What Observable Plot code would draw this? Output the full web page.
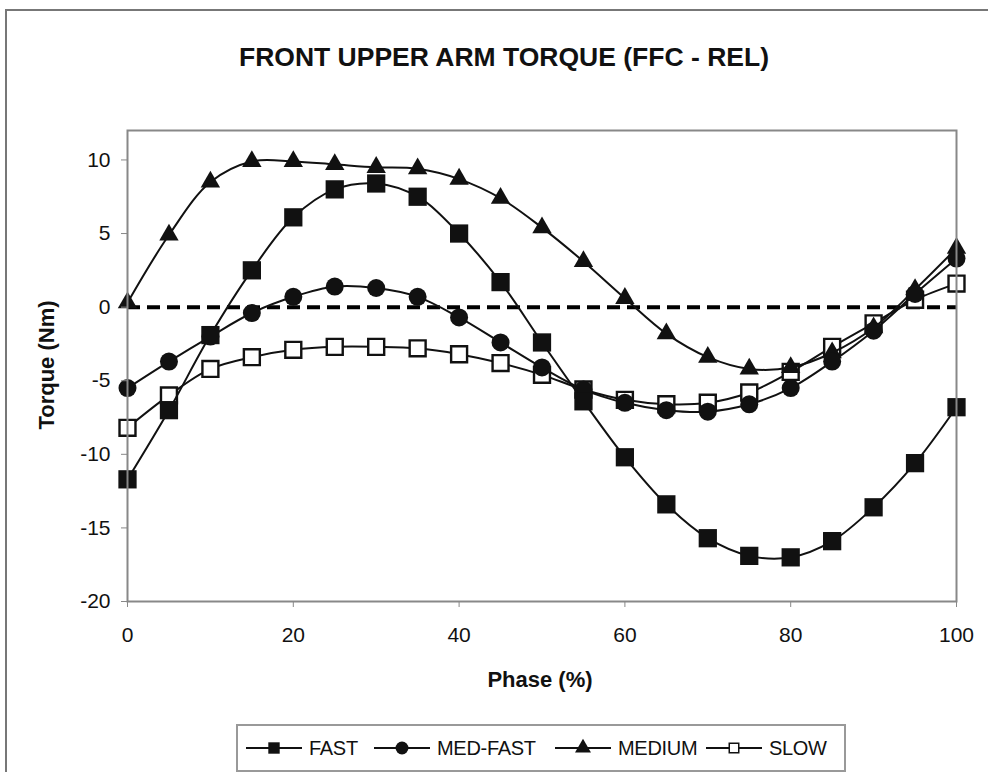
<!DOCTYPE html>
<html><head><meta charset="utf-8">
<script src="https://cdn.jsdelivr.net/npm/d3@7"></script>
<script src="https://cdn.jsdelivr.net/npm/@observablehq/plot@0.6"></script>
<style>
body{margin:0;background:#fff;font-family:"Liberation Sans",Arial,sans-serif;color:#111;}
#wrap{position:relative;width:988px;height:772px;overflow:hidden;}
#border{position:absolute;left:5px;top:9px;width:1100px;height:900px;border:2px solid #777;}
#title{position:absolute;left:0;width:1008px;top:42px;line-height:30px;text-align:center;font-weight:bold;font-size:26.5px;}
#chart{position:absolute;left:0;top:0;}
.alabel{position:absolute;font-weight:bold;font-size:22px;line-height:26px;white-space:nowrap;}
#xlabel{left:440px;width:200px;text-align:center;top:667px;}
#ylabel{left:-53px;width:200px;text-align:center;top:352px;transform:rotate(-90deg);}
#legend{position:absolute;left:236px;top:724px;width:606px;height:44px;border:2px solid #999;background:#fff;}
.item{position:absolute;top:0;height:44px;display:flex;align-items:center;font-size:20px;letter-spacing:-0.3px;white-space:nowrap;}
.item svg{margin-right:7px;}
</style></head>
<body>
<div id="wrap">
  <div id="border"></div>
  <div id="chart"></div>
  <div id="title">FRONT UPPER ARM TORQUE (FFC - REL)</div>
  <div class="alabel" id="xlabel">Phase (%)</div>
  <div class="alabel" id="ylabel">Torque (Nm)</div>
  <div id="legend"></div>
</div>
<script>
const phase = [0,5,10,15,20,25,30,35,40,45,50,55,60,65,70,75,80,85,90,95,100];
const fast = [-11.7,-7.0,-1.9,2.5,6.1,8.0,8.4,7.5,5.0,1.7,-2.4,-6.4,-10.2,-13.4,-15.7,-16.9,-17.0,-15.9,-13.6,-10.6,-6.8];
const medFast = [-5.5,-3.7,-2.0,-0.4,0.7,1.4,1.3,0.7,-0.7,-2.4,-4.1,-5.6,-6.5,-7.0,-7.1,-6.6,-5.5,-3.7,-1.6,0.9,3.3];
const medium = [0.3,4.9,8.5,9.9,9.9,9.7,9.5,9.4,8.7,7.4,5.4,3.1,0.6,-1.8,-3.4,-4.2,-4.1,-3.1,-1.4,1.2,4.0];
const slow = [-8.2,-6.0,-4.2,-3.4,-2.9,-2.7,-2.7,-2.8,-3.2,-3.8,-4.6,-5.6,-6.3,-6.6,-6.5,-5.8,-4.4,-2.7,-1.1,0.5,1.6];
const seriesNames = ["FAST","MED-FAST","MEDIUM","SLOW"];
const xTicks = [0,20,40,60,80,100];
const yTicks = [-20,-15,-10,-5,0,5,10];

const styles = {
  "FAST":     {values: fast,    symbol: "square",   fill: "#111",  stroke: "none", r: 10.3, sw: 0},
  "MED-FAST": {values: medFast, symbol: "circle",   fill: "#111",  stroke: "none", r: 9,    sw: 0},
  "MEDIUM":   {values: medium,  symbol: "triangle", fill: "#111",  stroke: "none", r: 7.2,  sw: 0},
  "SLOW":     {values: slow,    symbol: "square",   fill: "white", stroke: "#111", r: 9,    sw: 2.4}
};
const drawOrder = ["SLOW","MEDIUM","MED-FAST","FAST"];

const marks = [
  Plot.ruleY([0], {stroke: "#000", strokeWidth: 4, strokeDasharray: "13,7"})
];
for (const name of drawOrder) {
  const s = styles[name];
  const rows = phase.map((p, i) => ({phase: p, value: s.values[i]}));
  marks.push(Plot.line(rows, {x: "phase", y: "value", curve: "catmull-rom", stroke: "#111", strokeWidth: 2}));
  marks.push(Plot.dot(rows, {x: "phase", y: "value", symbol: () => s.symbol, r: s.r, fill: s.fill, stroke: s.stroke, strokeWidth: s.sw}));
}
marks.push(Plot.frame({stroke: "#888", strokeWidth: 2}));
marks.push(Plot.axisX({ticks: xTicks, tickFormat: d => String(d), tickSize: 6, tickPadding: 20, stroke: "#888", fill: "#111", fontSize: 21, label: null}));
marks.push(Plot.axisY({ticks: yTicks, tickFormat: d => String(d), tickSize: 6, tickPadding: 11, stroke: "#888", fill: "#111", fontSize: 21, label: null}));

const chart = Plot.plot({
  width: 988, height: 772,
  marginTop: 130, marginBottom: 171, marginLeft: 127, marginRight: 32,
  x: {domain: [0, 100]},
  y: {domain: [-20, 12]},
  style: {background: "none", fontFamily: '"Liberation Sans", Arial, sans-serif', color: "#111", overflow: "visible"},
  marks
});
document.getElementById("chart").appendChild(chart);

// legend
const legend = document.getElementById("legend");
const lefts = {"FAST": 8, "MED-FAST": 136, "MEDIUM": 317, "SLOW": 468};
for (const name of seriesNames) {
  const s = styles[name];
  const item = document.createElement("div");
  item.className = "item";
  item.style.left = lefts[name] + "px";
  const ns = "http://www.w3.org/2000/svg";
  const svg = document.createElementNS(ns, "svg");
  svg.setAttribute("width", 56); svg.setAttribute("height", 20);
  const line = document.createElementNS(ns, "line");
  line.setAttribute("x1", 0); line.setAttribute("x2", 56); line.setAttribute("y1", 10); line.setAttribute("y2", 10);
  line.setAttribute("stroke", "#111"); line.setAttribute("stroke-width", 2);
  svg.appendChild(line);
  const sym = {square: d3.symbolSquare, circle: d3.symbolCircle, triangle: d3.symbolTriangle}[s.symbol];
  const size = name === "SLOW" ? 90 : name === "MEDIUM" ? 110 : 130;
  const path = document.createElementNS(ns, "path");
  path.setAttribute("d", d3.symbol(sym, size)());
  path.setAttribute("transform", "translate(28,10)");
  path.setAttribute("fill", s.fill);
  path.setAttribute("stroke", s.stroke);
  path.setAttribute("stroke-width", name === "SLOW" ? 1.5 : 0);
  svg.appendChild(path);
  item.appendChild(svg);
  const t = document.createElement("span");
  t.textContent = name;
  item.appendChild(t);
  legend.appendChild(item);
}
</script>
</body></html>
